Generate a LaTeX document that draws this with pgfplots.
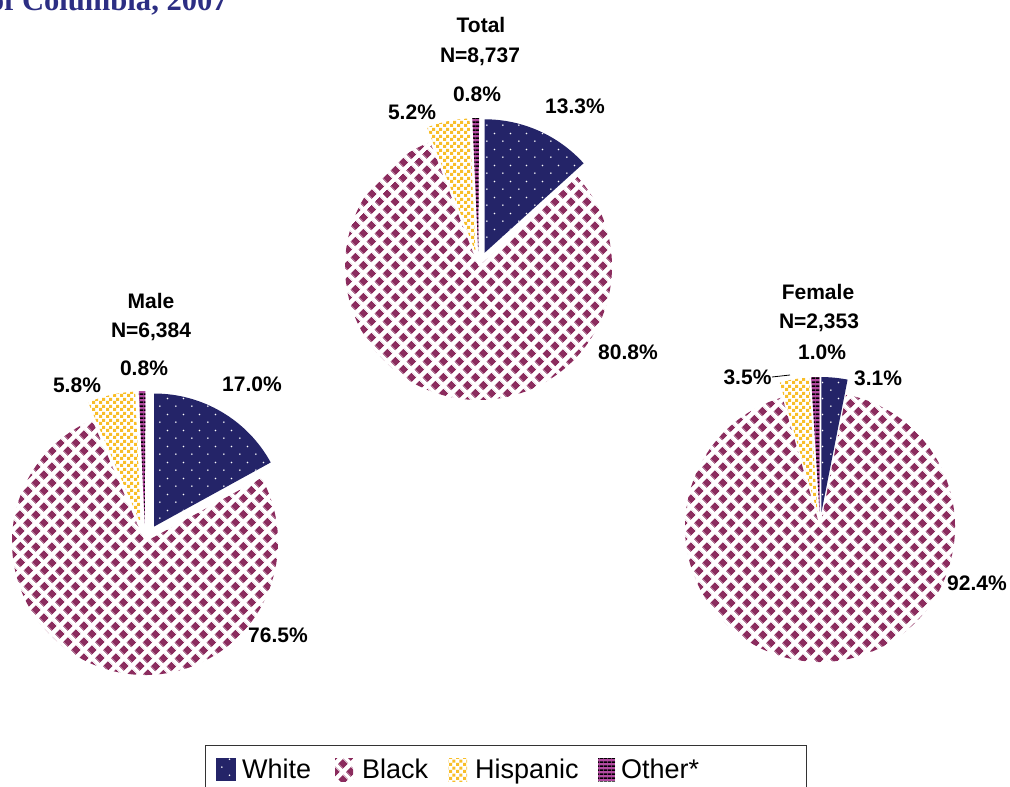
\documentclass[border=0pt]{standalone}
\usepackage{fontspec}
\setmainfont{Liberation Sans}
\newfontfamily\titlefont{Liberation Serif}
\usepackage{pgfplots}
\pgfplotsset{compat=1.18}
\usetikzlibrary{patterns,patterns.meta}

\definecolor{cnavy}{RGB}{36,36,104}
\definecolor{cmaroon}{RGB}{139,44,94}
\definecolor{cgold}{RGB}{248,190,40}
\definecolor{cmag}{RGB}{178,74,160}
\definecolor{ctitle}{RGB}{44,46,131}

% white dots (on navy)
\pgfdeclarepatternformonly{wdots}{\pgfqpoint{0pt}{0pt}}{\pgfqpoint{15.6pt}{15.6pt}}{\pgfqpoint{15.6pt}{15.6pt}}{%
  \pgfpathcircle{\pgfqpoint{3.9pt}{3.9pt}}{0.9pt}%
  \pgfpathcircle{\pgfqpoint{11.7pt}{11.7pt}}{0.9pt}%
  \pgfusepath{fill}}
% maroon diamonds (on white): squares on a rotated grid
\tikzdeclarepattern{
  name=diam,
  type=uncolored,
  bottom left={(0pt,0pt)},
  top right={(11.03pt,11.03pt)},
  tile size={(11.03pt,11.03pt)},
  tile transformation={rotate=45},
  code={\fill (2.0pt,2.0pt) rectangle (9.03pt,9.03pt);}
}
% gold squares (on white)
\pgfdeclarepatternformonly{ysq}{\pgfqpoint{0pt}{0pt}}{\pgfqpoint{6.6pt}{6.6pt}}{\pgfqpoint{6.6pt}{6.6pt}}{%
  \pgfpathrectangle{\pgfqpoint{0.1pt}{0.1pt}}{\pgfqpoint{3.1pt}{3.1pt}}%
  \pgfpathrectangle{\pgfqpoint{3.4pt}{3.4pt}}{\pgfqpoint{3.1pt}{3.1pt}}%
  \pgfusepath{fill}}
% horizontal stripes
\pgfdeclarepatternformonly{hstr}{\pgfqpoint{0pt}{0pt}}{\pgfqpoint{4pt}{4pt}}{\pgfqpoint{4pt}{4pt}}{%
  \pgfpathrectangle{\pgfqpoint{0pt}{0pt}}{\pgfqpoint{4pt}{2pt}}%
  \pgfusepath{fill}}

\tikzset{
  whiteslice/.style={fill=cnavy, postaction={pattern=wdots, pattern color=white}},
  blackslice/.style={fill=white, postaction={pattern=diam, pattern color=cmaroon}},
  hispslice/.style={fill=white, postaction={pattern=ysq, pattern color=cgold}},
  otherslice/.style={fill=cmag, postaction={pattern=hstr, pattern color=black}},
  lab/.style={font=\bfseries\fontsize{21}{24}\selectfont, anchor=base, inner sep=0pt},
}

% slice: cx, cy, start angle, percent, explode (px), style, radius
\newcommand{\slice}[7]{%
  \fill[#6] (axis cs:#1,#2) ++({#3-1.8*#4}:#5pt) -- ++({#3}:#7pt)
    arc[start angle={#3}, delta angle={-3.6*#4}, radius=#7pt] -- cycle;}
% pie: cx, cy, White, Black, Hispanic, Other, explode, radius
\newcommand{\pie}[8]{%
  \slice{#1}{#2}{90}{#3}{#7}{whiteslice}{#8}
  \slice{#1}{#2}{90-3.6*#3}{#4}{0}{blackslice}{#8}
  \slice{#1}{#2}{90-3.6*(#3+#4)}{#5}{#7}{hispslice}{#8}
  \slice{#1}{#2}{90-3.6*(#3+#4+#5)}{#6}{#7}{otherslice}{#8}}

\begin{document}
\begin{tikzpicture}
\useasboundingbox (0,0) rectangle (1010pt,787pt);
\clip (0,0) rectangle (1010pt,787pt);
\begin{axis}[at={(0,0)}, anchor=south west, x=1pt, y=1pt, y dir=reverse,
  xmin=0, xmax=1010, ymin=0, ymax=787, hide axis, clip=false,
  enlargelimits=false, scale only axis]

% Percentages: White, Black, Hispanic, Other*
% Total  N=8,737
\pie{478.5}{266.5}{13.3}{80.8}{5.2}{0.8}{15}{133.5}
% Male   N=6,384
\pie{145}{542}{17.0}{76.5}{5.8}{0.8}{18}{133}
% Female N=2,353
\pie{820}{527}{3.1}{92.4}{3.5}{1.0}{15}{135}

% title (cut at top)
\node[font=\titlefont\bfseries\fontsize{30.6}{34}\selectfont, text=ctitle, anchor=base east, inner sep=0pt] at (axis cs:228,10) {of Columbia, 2007};

% Total labels
\node[lab] at (axis cs:481,32) {Total};
\node[lab] at (axis cs:480,62) {N=8,737};
\node[lab] at (axis cs:477,101) {0.8\%};
\node[lab] at (axis cs:412,119.5) {5.2\%};
\node[lab] at (axis cs:575,113.5) {13.3\%};
\node[lab] at (axis cs:628,359.5) {80.8\%};
% Male labels
\node[lab] at (axis cs:151,308.5) {Male};
\node[lab] at (axis cs:151,337.5) {N=6,384};
\node[lab] at (axis cs:144,375.5) {0.8\%};
\node[lab] at (axis cs:77,392) {5.8\%};
\node[lab] at (axis cs:252,391.5) {17.0\%};
\node[lab] at (axis cs:278,642.5) {76.5\%};
% Female labels
\node[lab] at (axis cs:818,299.5) {Female};
\node[lab] at (axis cs:819,328.5) {N=2,353};
\node[lab] at (axis cs:822,359.5) {1.0\%};
\node[lab] at (axis cs:747.5,384.5) {3.5\%};
\draw[black, line width=0.8pt] (axis cs:772,377) -- (axis cs:790,375);
\node[lab] at (axis cs:878,385.5) {3.1\%};
\node[lab] at (axis cs:977,590.5) {92.4\%};

% legend
\draw[black!80, line width=0.9pt] (axis cs:205,800) -- (axis cs:205,745) -- (axis cs:806,745) -- (axis cs:806,800);
\fill[whiteslice] (axis cs:216,758) rectangle (axis cs:236,781);
\fill[blackslice] (axis cs:335,758) rectangle (axis cs:353,781);
\fill[hispslice] (axis cs:448,758) rectangle (axis cs:467,781);
\fill[otherslice] (axis cs:598,758) rectangle (axis cs:615,781);
\node[font=\fontsize{27}{30}\selectfont, anchor=base west, inner sep=0pt] at (axis cs:242,778) {White};
\node[font=\fontsize{27}{30}\selectfont, anchor=base west, inner sep=0pt] at (axis cs:362,778) {Black};
\node[font=\fontsize{27}{30}\selectfont, anchor=base west, inner sep=0pt] at (axis cs:475,778) {Hispanic};
\node[font=\fontsize{27}{30}\selectfont, anchor=base west, inner sep=0pt] at (axis cs:621,778) {Other*};
\end{axis}
\end{tikzpicture}
\end{document}
